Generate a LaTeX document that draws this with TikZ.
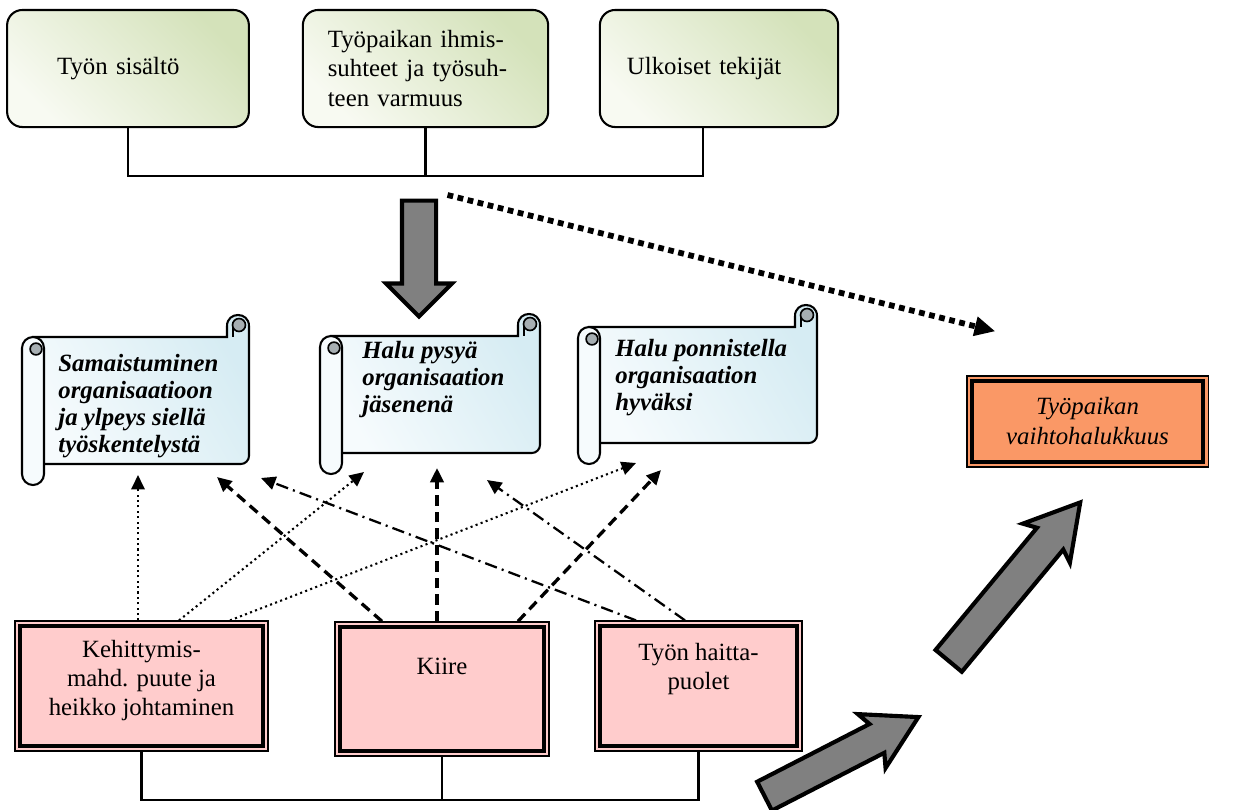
\documentclass[tikz,border=0pt]{standalone}
\usepackage{fontspec}
\setmainfont{Liberation Serif}
\usetikzlibrary{calc,shapes.arrows,arrows.meta}

\definecolor{greenlo}{RGB}{248,250,242}
\definecolor{greenhi}{RGB}{212,226,186}
\definecolor{bluelo}{RGB}{246,251,253}
\definecolor{bluehi}{RGB}{214,236,243}
\definecolor{pinkfill}{RGB}{255,204,204}
\definecolor{orangefill}{RGB}{250,152,102}
\definecolor{curlgray}{RGB}{166,174,178}

\tikzset{
  factor/.style={draw, line width=1pt, rounded corners=0.26cm, minimum height=1.99cm,
    align=left, font=\fontsize{12}{14.2}\selectfont,
    bottom color=greenlo, top color=greenhi, shading angle=-45},
  lackbox/.style={draw, line width=0.6pt, fill=pinkfill},
  goalbox/.style={draw, line width=0.6pt, fill=orangefill, align=center,
    font=\fontsize{12}{14.5}\selectfont\itshape},
  boxtxt/.style={align=center, inner sep=0pt, anchor=base, font=\fontsize{12}{14}\selectfont},
  scrolltxt/.style={align=left, inner sep=0pt, anchor=base west,
    font=\fontsize{12}{13}\selectfont\bfseries\itshape},
  pointy/.style={-{Triangle[length=7pt,width=6.5pt]}},
  finedots/.style={pointy, line width=1pt, dash pattern=on 1pt off 1.6pt},
  bolddash/.style={pointy, line width=1.6pt, dash pattern=on 5pt off 3pt},
  dashdotline/.style={pointy, line width=1.1pt, dash pattern=on 6pt off 2.5pt on 1pt off 2.5pt},
  bigdots/.style={-{Triangle[length=10pt,width=9pt]}, line width=2.8pt, dash pattern=on 2.8pt off 2.2pt},
  blockarrow/.style={single arrow, draw, line width=2pt, fill=gray, inner xsep=0pt},
  bus/.style={line width=1pt}
}

% L T R B of the sheet, in px
\newcommand\scrollpaper[4]{%
  \draw[line width=1pt, bottom color=bluelo, top color=bluehi, shading angle=-60]
    (#1+11,#2) -- (#3-22,#2) -- (#3-22,#2-11)
    .. controls (#3-22,#2-25.7) and (#3,#2-25.7) .. (#3,#2-11)
    [rounded corners=0.14cm] -- (#3,#4) -- (#1+11,#4) [sharp corners] -- cycle;
  \draw[line width=0.8pt, fill=curlgray] (#3-10,#2-12) circle (0.11cm);
  \draw[line width=0.8pt] (#3-16,#2-10) -- (#3-16,#2);
  \draw[line width=1pt, fill=bluelo, rounded corners=0.187cm] (#1,#2) rectangle (#1+22,#4+21);
  \draw[line width=0.8pt, fill=curlgray] (#1+14,#2+12) circle (0.1cm);
}

\begin{document}
\begin{tikzpicture}[x=0.017cm, y=-0.017cm]
  \useasboundingbox (0,0) rectangle (1238,809);

  \node[factor, minimum width=4.11cm, text width=2.41cm] (sisalto) at (128,68.5) {Työn sisältö};
  \node[factor, minimum width=4.17cm, text width=3.32cm] (suhteet) at (425.5,68.5) {Työpaikan ihmis-\\suhteet ja työsuh-\\teen varmuus};
  \node[factor, minimum width=4.05cm, text width=3.13cm] (ulkoiset) at (719,68.5) {Ulkoiset tekijät};

  \coordinate (topbus) at (suhteet.south |- 0,176);
  \draw[bus] (sisalto.south) |- (topbus) -| ([shift={(-16,0)}]ulkoiset.south);
  \draw[bus] (suhteet.south) -- (topbus);

  \node[blockarrow, rotate=-90, minimum height=1.97cm, inner ysep=0.255cm,
    single arrow head extend=0.27cm] (alas) at (419,250) {};

  \scrollpaper{22}{337}{249}{464}
  \scrollpaper{320}{336}{540}{453}
  \scrollpaper{578}{327}{817}{443}
  \node[scrolltxt] (samaistuminen) at (58,452) {Samaistuminen\\organisaatioon\\ja ylpeys siellä\\työskentelystä};
  \node[scrolltxt] (pysya) at (362,412) {Halu pysyä\\organisaation\\jäsenenä};
  \node[scrolltxt] (ponnistella) at (615,410) {Halu ponnistella\\organisaation\\hyväksi};

  \node[goalbox, minimum width=4.10cm, minimum height=1.55cm] (vaihto) at (1087.5,421.5) {Työpaikan\\vaihtohalukkuus};

  \node[lackbox, minimum width=4.30cm, minimum height=2.21cm] (kehit) at (141.5,686) {};
  \node[lackbox, minimum width=3.64cm, minimum height=2.28cm] (kiire) at (442,689) {};
  \node[lackbox, minimum width=3.52cm, minimum height=2.21cm] (haitta) at (698.5,686) {};
  \foreach \n in {kehit,kiire,haitta,vaihto}{
    \draw[line width=1.8pt] ([shift={(5.5,5.5)}]\n.north west) rectangle ([shift={(-5.5,-5.5)}]\n.south east);
  }
  \node[boxtxt] (kehitT) at (141.5,715) {Kehittymis-\\mahd. puute ja\\heikko johtaminen};
  \node[boxtxt] (kiireT) at (442,674) {Kiire};
  \node[boxtxt] (haittaT) at (698.5,689) {Työn haitta-\\puolet};

  \coordinate (botbus) at (kiire.south |- 0,800);
  \draw[bus] (kehit.south) |- (botbus) -| (haitta.south);
  \draw[bus] (kiire.south) -- (botbus);

  \coordinate (sam1) at (138,475);
  \coordinate (sam2) at (217,477);
  \coordinate (sam3) at (261,478);
  \coordinate (pys1) at (364,472);
  \coordinate (pys2) at (437,468);
  \coordinate (pys3) at (487,480);
  \coordinate (pon1) at (636,463);
  \coordinate (pon2) at (661,470);

  \draw[finedots] ([shift={(-3.5,0)}]kehit.north) -- (sam1);
  \draw[finedots] ([shift={(37.5,0)}]kehit.north) -- (pys1);
  \draw[finedots] ([shift={(88.5,0)}]kehit.north) -- (pon1);
  \draw[bolddash] ([shift={(-60,0)}]kiire.north) -- (sam2);
  \draw[bolddash] ([shift={(-5,0)}]kiire.north) -- (pys2);
  \draw[bolddash] ([shift={(76,0)}]kiire.north) -- (pon2);
  \draw[dashdotline] ([shift={(-62.5,0)}]haitta.north) -- (sam3);
  \draw[dashdotline] ([shift={(-13.5,0)}]haitta.north) -- (pys3);

  \draw[bigdots] ([shift={(22,19)}]topbus) -- ([shift={(29,-44)}]vaihto.north west);

  \node[blockarrow, rotate=27.2, minimum height=2.94cm, inner ysep=0.24cm,
    single arrow head extend=0.24cm, single arrow tip angle=60, single arrow head indent=0.1cm] (nousu1) at (829,763) {};
  \node[blockarrow, rotate=50.3, minimum height=3.5cm, inner ysep=0.255cm,
    single arrow head extend=0.23cm, single arrow tip angle=60, single arrow head indent=0.1cm] (nousu2) at (1005,593) {};
\end{tikzpicture}
\end{document}
